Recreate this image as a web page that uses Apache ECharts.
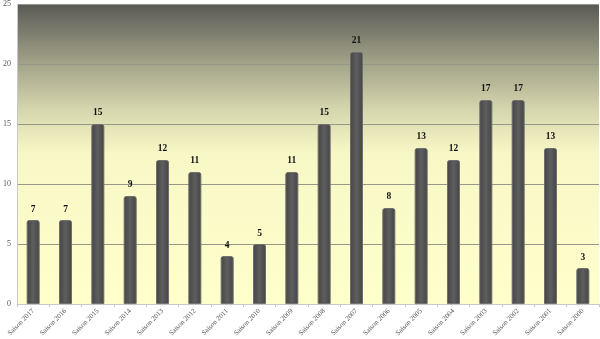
<!DOCTYPE html>
<html><head><meta charset="utf-8">
<script src="https://cdn.jsdelivr.net/npm/echarts@6/dist/echarts.min.js"></script>
<style>html,body{margin:0;padding:0;background:#fff}#c{width:600px;height:339px}</style>
</head><body><div id="c"></div>
<script>
const categories = ["Saison 2017","Saison 2016","Saison 2015","Saison 2014","Saison 2013","Saison 2012","Saison 2011","Saison 2010","Saison 2009","Saison 2008","Saison 2007","Saison 2006","Saison 2005","Saison 2004","Saison 2003","Saison 2002","Saison 2001","Saison 2000"];
const values = [7,7,15,9,12,11,4,5,11,15,21,8,13,12,17,17,13,3];
const yTicks = [0,5,10,15,20,25];

const chart = echarts.init(document.getElementById('c'));
chart.setOption({
  animation:false,
  grid:{left:17,right:1,top:4,bottom:33,show:true,borderWidth:0,
    backgroundColor:{type:'linear',x:0,y:0,x2:0,y2:1,colorStops:[
      {offset:0,color:'#5a5a56'},{offset:0.2,color:'#a4a48a'},{offset:0.36,color:'#d8d8b0'},{offset:0.5,color:'#f8f8c6'},{offset:1,color:'#ffffcc'}]}},
  xAxis:{type:'category',data:categories,
    axisLine:{show:true,lineStyle:{color:'#c8c8c8'}},
    axisTick:{show:true,lineStyle:{color:'#c8c8c8'},length:3},
    axisLabel:{rotate:45,fontSize:7,fontFamily:'Liberation Serif, serif',color:'#555',interval:0,margin:6}},
  yAxis:{type:'value',min:yTicks[0],max:yTicks[yTicks.length-1],interval:5,
    axisLine:{show:true,lineStyle:{color:'#c8c8c8'}},
    axisTick:{show:false},
    axisLabel:{fontSize:8,fontFamily:'Liberation Serif, serif',color:'#555',margin:6},
    splitLine:{lineStyle:{color:'#98988a',width:1}}},
  series:[{type:'bar',data:values,barWidth:13,
    itemStyle:{color:{type:'linear',x:0,y:0,x2:1,y2:0,colorStops:[
      {offset:0,color:'#444444'},{offset:0.5,color:'#5e5e5e'},{offset:1,color:'#444444'}]},
      borderColor:'#6e6e6e',borderWidth:1,borderRadius:[2,2,0,0]},
    label:{show:true,position:'top',distance:6,fontSize:9.5,fontWeight:'bold',fontFamily:'Liberation Serif, serif',color:'#111'}}]
});
</script></body></html>
